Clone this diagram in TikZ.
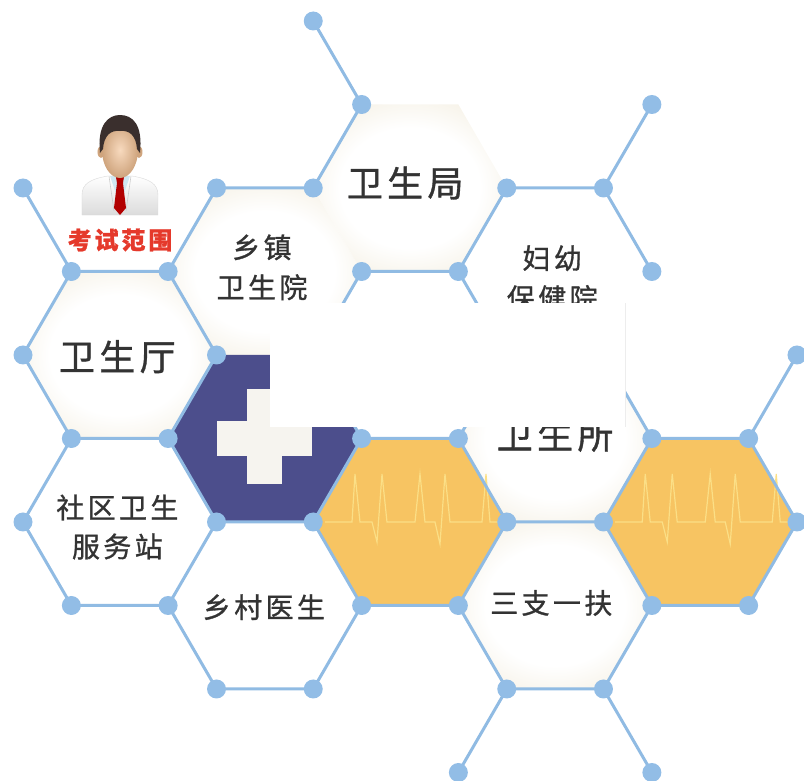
\documentclass[tikz,border=0pt]{standalone}
\usepackage{fontspec}
\usepackage{tikz}
\newfontfamily\cjk[LetterSpace=12,FakeBold=1]{Noto Sans CJK SC}
\definecolor{linkblue}{HTML}{90BBE3}
\definecolor{dotblue}{HTML}{92BDE6}
\definecolor{navy}{HTML}{4C4E8C}
\definecolor{honey}{HTML}{F7C462}
\definecolor{pulseyellow}{HTML}{FBDF86}
\definecolor{cream}{HTML}{ECE3CC}
\definecolor{crosswhite}{HTML}{F6F4EF}
\definecolor{ink}{HTML}{333333}
\definecolor{examred}{HTML}{E5392B}
\definecolor{skin}{HTML}{F3C193}
\definecolor{hair}{HTML}{3A2F2D}
\pgfdeclareradialshading{cellglow}{\pgfpoint{0bp}{0bp}}{color(0bp)=(white); color(18bp)=(white); color(42bp)=(cream); color(50bp)=(cream)}
\tikzset{
  link/.style={line width=3pt, color=linkblue},
  glow/.style={shading=cellglow},
  pulse/.style={line width=1.2pt, color=pulseyellow},
  bigtext/.style={font=\cjk\fontsize{36}{40}\selectfont, text=ink},
  smalltext/.style={font=\cjk\fontsize{28}{40}\selectfont, text=ink, align=center}
}
% hexagon around lattice point (x,y), flat top
\def\hexcell[#1](#2,#3){\path[#1] (#2-2,#3) -- (#2-1,#3-1) -- (#2+1,#3-1) -- (#2+2,#3) -- (#2+1,#3+1) -- (#2-1,#3+1) -- cycle}
% heartbeat trace through a cell centre
\def\ecg[#1](#2){\draw[#1,shift={(#2)}] (-85pt,0pt) -- (-58pt,0pt) -- (-55pt,48pt) -- (-50pt,0pt) -- (-38pt,0pt) -- (-33pt,-20pt) -- (-28pt,48pt) -- (-23pt,0pt) -- (5pt,0pt) -- (10pt,48pt) -- (15pt,0pt) -- (25pt,0pt) -- (30pt,-22pt) -- (35pt,48pt) -- (40pt,0pt) -- (72pt,0pt) -- (76pt,48pt) -- (80pt,0pt) -- (88pt,0pt)}

\begin{document}
\begin{tikzpicture}[x=48.375pt,y=-83.5pt]
		\useasboundingbox (-0.4755,-0.2515) rectangle (16.145,9.09);
		
		%%%%% CELLS %%%%%
		\hexcell[glow](2,4);
		\hexcell[glow](5,3);
		\hexcell[glow](8,2);
		\hexcell[glow](11,5);
		\hexcell[glow](11,7);
		\hexcell[fill=navy](5,5);
		\hexcell[fill=honey](8,6);
		\hexcell[fill=honey](14,6);
		\ecg[pulse](8,6);
		\ecg[pulse](14,6);
		
		% the cross
		\fill[crosswhite, shift={(5,5)}] (-47.5pt,-17.5pt) rectangle (47.5pt,17.5pt);
		\fill[crosswhite, shift={(5,5)}] (-17.5pt,-45.5pt) rectangle (17.5pt,49.5pt);
		
		%%%%% LINKS %%%%%
		\draw[link] (6,0) -- (7,1) -- (6,2) -- (4,2) -- (3,3) -- (1,3) -- (0,2);
		\draw[link] (3,3) -- (4,4) -- (3,5) -- (1,5) -- (0,4) -- (1,3);
		\draw[link] (1,5) -- (0,6) -- (1,7) -- (3,7) -- (4,6) -- (3,5);
		\draw[link] (4,6) -- (6,6) -- (7,5) -- (6,4) -- (7,3) -- (9,3) -- (10,2) -- (12,2) -- (13,3);
		\draw[link] (12,2) -- (13,1);
		\draw[link] (9,3) -- (10,4);
		\draw[link] (6,6) -- (7,7) -- (6,8) -- (4,8) -- (3,7);
		\draw[link] (7,5) -- (9,5) -- (10,6) -- (9,7) -- (7,7);
		\draw[link] (9,5) -- (10,4);
		\draw[link] (9,7) -- (10,8) -- (12,8) -- (13,7) -- (12,6) -- (10,6);
		\draw[link] (10,8) -- (9,9);
		\draw[link] (12,8) -- (13,9);
		\draw[link] (12,6) -- (13,5) -- (15,5) -- (16,6) -- (15,7) -- (13,7);
		\draw[link] (13,5) -- (12,4);
		\draw[link] (15,5) -- (16,4);
		
		\foreach \x/\y in {6/0, 7/1, 13/1, 0/2, 4/2, 6/2, 10/2, 12/2, 1/3, 3/3, 7/3, 9/3, 13/3,
		                   0/4, 4/4, 16/4, 1/5, 3/5, 7/5, 9/5, 13/5, 15/5, 0/6, 4/6, 6/6, 10/6, 12/6, 16/6,
		                   1/7, 3/7, 7/7, 9/7, 13/7, 15/7, 4/8, 6/8, 10/8, 12/8, 9/9, 13/9}
		  \fill[dotblue] (\x,\y) circle (9.5pt);
		
		%%%%% DOCTOR %%%%%
		\begin{scope}[shift={(2.005,1.7246)}]
		  \shade[top color=white, bottom color=black!14, draw=black!15, line width=0.4pt]
		    (-38pt,-50pt) -- (-38pt,-30pt) .. controls (-38pt,-19pt) and (-30pt,-14pt) .. (-12pt,-11pt)
		    -- (12pt,-11pt) .. controls (30pt,-14pt) and (38pt,-19pt) .. (38pt,-30pt) -- (38pt,-50pt) -- cycle;
		  \fill[skin!80!black] (-7pt,-14pt) rectangle (7pt,-2pt);
		  \fill[black!25!cyan!20] (-10pt,-11pt) -- (10pt,-11pt) -- (0pt,-40pt) -- cycle;
		  \fill[red!70!black] (-4pt,-12pt) -- (4pt,-12pt) -- (3pt,-18pt) -- (-3pt,-18pt) -- cycle;
		  \fill[red!70!black] (-3pt,-18pt) -- (3pt,-18pt) -- (6pt,-43pt) -- (0pt,-50pt) -- (-6pt,-43pt) -- cycle;
		  \draw[black!20, line width=0.6pt] (-11pt,-11pt) -- (-6pt,-46pt);
		  \draw[black!20, line width=0.6pt] (11pt,-11pt) -- (6pt,-46pt);
		  \fill[skin!85!black] (-19pt,13pt) ellipse (3.5pt and 6pt);
		  \fill[skin!85!black] (19pt,13pt) ellipse (3.5pt and 6pt);
		  \shade[inner color=skin!60!white, outer color=skin!85!black] (0pt,15pt) ellipse (18pt and 28pt);
		  \fill[hair] (-20pt,12pt) .. controls (-23pt,40pt) and (-12pt,50pt) .. (0pt,50pt)
		    .. controls (13pt,50pt) and (23pt,40pt) .. (20pt,12pt) -- (17pt,16pt)
		    .. controls (16pt,30pt) and (9pt,35pt) .. (0pt,34pt)
		    .. controls (-9pt,35pt) and (-16pt,30pt) .. (-17pt,16pt) -- cycle;
		\end{scope}
		\node[font=\cjk\bfseries\fontsize{24}{24}\selectfont, text=examred] (exam) at (2.005,2.623) {考试范围};
		
		%%%%% LABELS %%%%%
		\node[bigtext] (hall) at (1.95,4.02) {卫生厅};
		\node[bigtext] (bureau) at (7.9,1.94) {卫生局};
		\node[bigtext] (clinic) at (11.0,4.96) {卫生所};
		\node[smalltext] (township) at (4.94,2.95) {乡镇\\卫生院};
		\node[smalltext] (maternal) at (10.94,3.08) {妇幼\\保健院};
		\node[smalltext, font=\cjk\fontsize{28}{39}\selectfont] (community) at (1.95,6.06) {社区卫生\\服务站};
		\node[smalltext] (village) at (4.98,7.02) {乡村医生};
		\node[smalltext] (support) at (10.92,6.97) {三支一扶};
		
		% blank card over the middle
		\fill[white] (5.106,3.377) rectangle (12.444,4.862);
		\draw[black!7, line width=0.6pt] (12.444,3.377) -- (12.444,4.862);
		
\end{tikzpicture}
\end{document}
